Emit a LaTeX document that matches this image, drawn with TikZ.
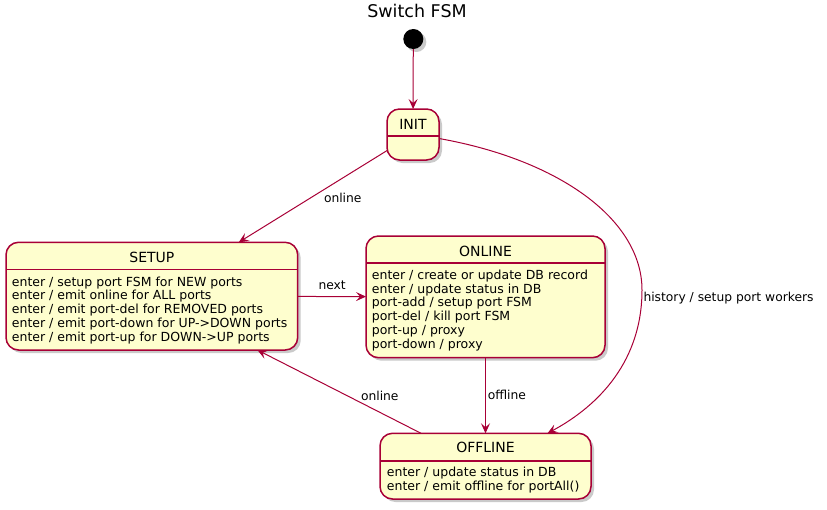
\documentclass[tikz,border=0pt]{standalone}
\usepackage{fontspec}
\setmainfont{DejaVu Sans}
\usetikzlibrary{arrows.meta,shadows}

\definecolor{umlred}{HTML}{A80036}
\definecolor{umlfill}{HTML}{FEFECE}

\tikzset{
  state/.style={draw=umlred, fill=umlfill, line width=1.5pt, rounded corners=12.5pt,
    inner sep=0pt, outer sep=0pt,
    drop shadow={shadow xshift=3pt, shadow yshift=-3pt, opacity=0.35, fill=black!60}},
  statename/.style={font=\fontsize{14}{16}\selectfont, inner sep=0pt},
  actions/.style={font=\fontsize{12.5}{13.9}\selectfont, align=left, inner sep=0pt, anchor=north west},
  sepline/.style={draw=umlred, line width=1.5pt},
  trans/.style={draw=umlred, line width=1pt, -{Stealth[length=10pt,width=9pt,inset=4pt]}},
  lbl/.style={font=\fontsize{12.3}{14}\selectfont, inner sep=0pt, anchor=base west}
}

\begin{document}
\begin{tikzpicture}[x=1pt,y=-1pt]
   \useasboundingbox (0,0) rectangle (827,509);

   % title and initial state
   \node[font=\fontsize{17.5}{20}\selectfont, inner sep=0pt] (title) at (417,11.2) {Switch FSM};
   \node[circle, fill=black, minimum size=20pt, inner sep=0pt, outer sep=0pt,
     drop shadow={shadow xshift=3pt, shadow yshift=-3pt, opacity=0.35, fill=black!60}] (start) at (413.3,39) {};

   % states
   \node[state, minimum width=52pt, minimum height=51pt] (init) at (413,134.5) {};
   \node[statename] at ([yshift=-15.5pt]init.north) {INIT};
   \draw[sepline] ([yshift=-27pt]init.north west) -- ([yshift=-27pt]init.north east);

   \node[state, minimum width=291.7pt, minimum height=107.7pt] (setup) at (151.85,296.15) {};
   \node[statename] at ([yshift=-15pt]setup.north) {SETUP};
   \draw[sepline] ([yshift=-27pt]setup.north west) -- ([yshift=-27pt]setup.north east);
   \node[actions] at ([shift={(5.7,34)}]setup.north west) {enter / setup port FSM for NEW ports\\
     enter / emit online for ALL ports\\
     enter / emit port-del for REMOVED ports\\
     enter / emit port-down for UP->DOWN ports\\
     enter / emit port-up for DOWN->UP ports};

   \node[state, minimum width=239pt, minimum height=121.7pt] (online) at (485.5,296.85) {};
   \node[statename] at ([yshift=-15pt]online.north) {ONLINE};
   \draw[sepline] ([yshift=-27pt]online.north west) -- ([yshift=-27pt]online.north east);
   \node[actions] at ([shift={(5.7,33.4)}]online.north west) {enter / create or update DB record\\
     enter / update status in DB\\
     port-add / setup port FSM\\
     port-del / kill port FSM\\
     port-up / proxy\\
     port-down / proxy};

   \node[state, minimum width=211pt, minimum height=65.7pt] (offline) at (485.5,466.15) {};
   \node[statename] at ([yshift=-14.5pt]offline.north) {OFFLINE};
   \draw[sepline] ([yshift=-27.5pt]offline.north west) -- ([yshift=-27.5pt]offline.north east);
   \node[actions] at ([shift={(6.7,33.4)}]offline.north west) {enter / update status in DB\\
     enter / emit offline for portAll()};

   % transitions
   \coordinate (hist) at (642,290);
   \draw[trans] (start) -- (init);
   \draw[trans] (init) -- (setup) node[lbl] at (323.5,202.6) {online};
   \draw[trans] (setup) -- (online) node[lbl] at (318,289.3) {next};
   \draw[trans] (online) -- (offline) node[lbl] at (487.3,399.3) {offline};
   \draw[trans] (offline) -- (setup) node[lbl] at (360.5,400) {online};
   \draw[trans] ([yshift=-4pt]init.east) .. controls (560,160) and (642,220) .. (hist)
     .. controls (642,360) and (600,405) .. ([xshift=62pt]offline.north);
   \node[lbl] (histlbl) at (643.3,301.7) {history / setup port workers};
\end{tikzpicture}
\end{document}
